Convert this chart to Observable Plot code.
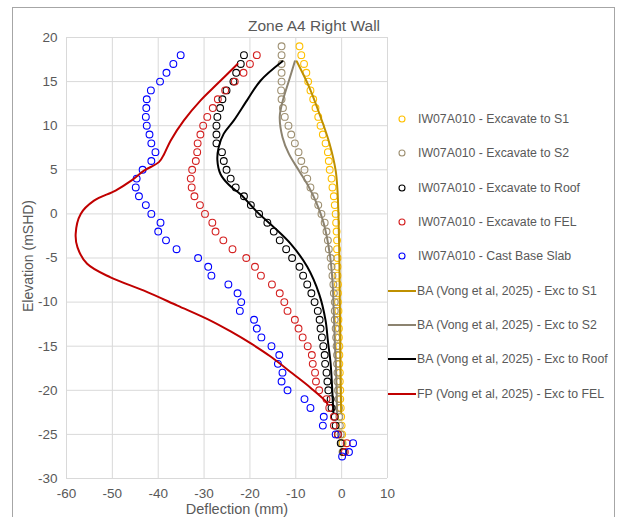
<!DOCTYPE html>
<html>
<head>
<meta charset="utf-8">
<script src="https://cdn.jsdelivr.net/npm/d3@7"></script>
<script src="https://cdn.jsdelivr.net/npm/@observablehq/plot@0.6"></script>
<style>
  body { margin: 0; background: #fff; }
  #wrap { position: relative; width: 623px; height: 517px; overflow: hidden; font-family: "Liberation Sans", Arial, sans-serif; color: #595959; }
  #frame { position: absolute; left: 12px; top: 7px; width: 603px; height: 530px; border: 1px solid #a6a6a6; box-sizing: border-box; }
  #title { position: absolute; left: 164px; width: 300px; top: 18px; line-height: 16px; text-align: center; font-size: 15.5px; }
  #xlabel { position: absolute; left: 137px; width: 200px; top: 502.8px; line-height: 12px; text-align: center; font-size: 14.5px; }
  #ylabel { position: absolute; left: 28px; top: 256px; font-size: 14px; line-height: 14px; white-space: nowrap; transform: translate(-50%, -50%) rotate(-90deg); }
  #chart { position: absolute; left: 0; top: 0; }
  .li { position: absolute; left: 386px; height: 16px; font-size: 12.3px; white-space: nowrap; display: flex; align-items: center; }
  .li svg { flex: none; }
</style>
</head>
<body>
<div id="wrap">
  <div id="frame"></div>
  <div id="chart"></div>
  <div id="title">Zone A4 Right Wall</div>
  <div id="xlabel">Deflection (mm)</div>
  <div id="ylabel">Elevation (mSHD)</div>
  <div id="legend"></div>
</div>
<script>
// ---- Tick labels ----
const xTicks = [-60, -50, -40, -30, -20, -10, 0, 10];
const yTicks = [-30, -25, -20, -15, -10, -5, 0, 5, 10, 15, 20];

// ---- Inclinometer IW07A010 readings (elevation mSHD, deflection mm) ----
const elevS1 = [19,18,17,16,15,14,13,12,11,10,9,8,7,6,5,4,3,2,1,0,-1,-2,-3,-4,-5,-6,-7,-8,-9,-10,-11,-12,-13,-14,-15,-16,-17,-18,-19,-20,-21,-22,-23,-24,-25,-26,-27];
const defS1 = [-9.2,-8.8,-8.2,-7.7,-7.3,-6.8,-6.2,-5.7,-5.1,-4.6,-4.1,-3.5,-3.0,-2.8,-2.6,-2.2,-2.0,-1.7,-1.5,-1.3,-1.2,-1.1,-1.0,-1.0,-0.9,-0.9,-0.9,-0.8,-0.8,-0.8,-0.7,-0.7,-0.6,-0.6,-0.5,-0.5,-0.5,-0.4,-0.4,-0.3,-0.3,-0.2,-0.1,0.0,0.1,0.2,0.3];

const elevS2 = [19,18,17,16,15,14,13,12,11,10,9,8,7,6,5,4,3,2,1,0,-1,-2,-3,-4,-5,-6,-7,-8,-9,-10,-11,-12,-13,-14,-15,-16,-17,-18,-19,-20,-21,-22,-23,-24,-25,-26,-27];
const defS2 = [-13.1,-13.1,-13.1,-13.1,-13.1,-13.2,-13.1,-12.8,-12.4,-11.6,-11.0,-10.2,-9.4,-8.8,-8.1,-7.5,-6.8,-5.9,-5.1,-4.4,-3.7,-3.3,-3.0,-2.8,-2.4,-2.2,-2.0,-1.8,-1.7,-1.5,-1.5,-1.5,-1.3,-1.2,-1.1,-1.0,-1.0,-0.9,-0.9,-0.8,-0.7,-0.6,-0.5,-0.4,-0.2,0.0,0.2];

const elevRoof = [18,17,16,15,14,13,12,11,10,9,8,7,6,5,4,3,2,1,0,-1,-2,-3,-4,-5,-6,-7,-8,-9,-10,-11,-12,-13,-14,-15,-16,-17,-18,-19,-20,-21,-22,-23,-24,-25,-26,-27];
const defRoof = [-21.3,-22.0,-23.0,-23.6,-25.1,-26.0,-26.5,-27.1,-27.3,-27.3,-27.3,-26.1,-25.7,-25.1,-24.2,-23.1,-21.3,-19.8,-18.0,-16.2,-14.8,-13.5,-12.1,-10.8,-9.2,-8.4,-7.5,-6.6,-5.9,-5.2,-4.8,-4.6,-4.3,-4.0,-3.7,-3.6,-3.3,-3.1,-2.9,-2.4,-2.2,-1.5,-1.3,-0.8,-0.2,0.4];

const elevFEL = [18,17,16,15,14,13,12,11,10,9,8,7,6,5,4,3,2,1,0,-1,-2,-3,-4,-5,-6,-7,-8,-9,-10,-11,-12,-13,-14,-15,-16,-17,-18,-19,-20,-21,-22,-23,-24,-25,-26,-27];
const defFEL = [-18.5,-20.0,-21.4,-23.3,-25.4,-27.0,-28.1,-29.3,-30.2,-30.8,-31.4,-31.5,-31.8,-32.6,-32.9,-32.7,-32.1,-30.9,-29.8,-28.2,-27.5,-25.8,-23.8,-20.8,-18.9,-17.6,-15.2,-13.5,-12.5,-11.8,-10.2,-9.4,-8.5,-7.4,-6.5,-6.3,-5.8,-5.6,-4.9,-3.3,-2.7,-1.7,-1.7,-0.8,1.1,0.7];

const elevSlab = [18,17,16,15,14,13,12,11,10,9,8,7,6,5,4,3,2,1,0,-1,-2,-3,-4,-5,-6,-7,-8,-9,-10,-11,-12,-13,-14,-15,-16,-17,-18,-19,-20,-21,-22,-23,-24,-25,-26,-27,-27.5];
const defSlab = [-35.1,-36.7,-38.2,-39.6,-41.6,-42.5,-42.6,-42.7,-42.5,-41.9,-41.5,-40.6,-41.5,-43.4,-44.7,-44.9,-44.2,-42.7,-41.5,-39.5,-40.0,-38.3,-36.0,-31.3,-29.1,-28.4,-24.7,-22.7,-21.9,-22.2,-19.1,-18.5,-17.5,-15.3,-13.6,-13.9,-12.9,-13.1,-11.8,-8.1,-6.8,-3.9,-4.1,-1.3,2.5,1.6,0.1];

// ---- Predicted profiles (Vong et al, 2025) ----
const baS1Elev = [17.3,14.4,11.0,7.9,4.9,2.6,0,-5,-10,-15,-20,-22.5];
const baS1Def  = [-9.8,-7.1,-4.6,-2.6,-1.3,-0.9,-0.7,-0.5,-0.4,-0.3,-0.2,-0.1];

const baS2Elev = [17.3,15.1,12.7,11.0,8.7,6.8,4.9,3.0,1.5,-1.1,-4.5,-7.6,-11.4,-14.4,-18,-22.5];
const baS2Def  = [-10.2,-11.5,-12.9,-13.5,-12.9,-11.5,-9.3,-7.1,-5.7,-3.9,-2.6,-2.0,-1.7,-1.5,-1.2,-1.0];

const baRoofElev = [17.3,15.1,12.9,10.6,9.1,7.6,6.1,4.5,3.3,2.2,0.2,-1.5,-3.4,-6.0,-9.1,-12.1,-14.4,-17,-21.5,-22.5];
const baRoofDef  = [-12.9,-17.7,-20.6,-23.5,-25.7,-26.8,-27.1,-26.4,-24.6,-22.0,-18.4,-14.8,-11.1,-7.5,-4.9,-3.5,-3.0,-2.4,-1.9,-1.8];

const fpFelElev = [17.0,14.75,12.9,10.6,8.3,6.8,5.9,4.9,3.8,2.65,1.5,0,-2.26,-3.8,-5.66,-7.2,-8.7,-10.4,-12.1,-13.33,-14.69,-16.17,-18.1,-19.7,-21.34,-21.6];
const fpFelDef  = [-22.7,-27.1,-30.7,-34.4,-37.3,-38.7,-39.8,-43.1,-45.8,-49.3,-54.0,-56.9,-58.0,-57.6,-55.5,-50.4,-43.1,-35.8,-28.6,-24.2,-19.8,-15.5,-10.7,-6.8,-3.3,-3.1];

// ---- Series styling / names ----
const pointSeries = [
  {name: "IW07A010 - Excavate to S1", color: "#ffc000", elev: elevS1, def: defS1},
  {name: "IW07A010 - Excavate to S2", color: "#9e9072", elev: elevS2, def: defS2},
  {name: "IW07A010 - Excavate to Roof", color: "#000000", elev: elevRoof, def: defRoof},
  {name: "IW07A010 - Excavate to FEL", color: "#d42020", elev: elevFEL, def: defFEL},
  {name: "IW07A010 - Cast Base Slab", color: "#0000ff", elev: elevSlab, def: defSlab}
];
const lineSeries = [
  {name: "BA (Vong et al, 2025) - Exc to S1", color: "#bf9000", elev: baS1Elev, def: baS1Def},
  {name: "BA (Vong et al, 2025) - Exc to S2", color: "#8c8370", elev: baS2Elev, def: baS2Def},
  {name: "BA (Vong et al, 2025) - Exc to Roof", color: "#000000", elev: baRoofElev, def: baRoofDef},
  {name: "FP (Vong et al, 2025) - Exc to FEL", color: "#c00000", elev: fpFelElev, def: fpFelDef}
];

const rows = s => s.elev.map((e, i) => ({x: s.def[i], y: e}));

const marks = [
  Plot.gridX(xTicks, {stroke: "#d9d9d9", strokeOpacity: 1, strokeWidth: 1}),
  Plot.gridY(yTicks, {stroke: "#d9d9d9", strokeOpacity: 1, strokeWidth: 1}),
  Plot.axisX(xTicks, {tickSize: 0, tickPadding: 9.5, label: null, tickFormat: d => String(d), fill: "#595959"}),
  Plot.axisY(yTicks, {tickSize: 0, tickPadding: 9, label: null, tickFormat: d => String(d), fill: "#595959"})
];
for (const s of pointSeries) {
  marks.push(Plot.dot(rows(s), {x: "x", y: "y", r: 3.4, stroke: s.color, strokeWidth: 1.1, fill: "none"}));
}
for (const s of lineSeries) {
  marks.push(Plot.line(rows(s), {x: "x", y: "y", stroke: s.color, strokeWidth: 2, curve: "catmull-rom"}));
}

const chart = Plot.plot({
  width: 623,
  height: 517,
  marginLeft: 66,
  marginRight: 236,
  marginTop: 37,
  marginBottom: 39,
  x: {domain: [-60, 10]},
  y: {domain: [-30, 20]},
  style: {fontFamily: '"Liberation Sans", Arial, sans-serif', fontSize: "13.5px", color: "#595959", background: "transparent", overflow: "visible"},
  marks
});
document.getElementById("chart").appendChild(chart);

// ---- Legend ----
const legend = document.getElementById("legend");
const legendY = [119, 153, 188, 222, 256, 291, 325, 359, 394];
const ns = "http://www.w3.org/2000/svg";
[...pointSeries.map(s => ({...s, kind: "dot"})), ...lineSeries.map(s => ({...s, kind: "line"}))].forEach((s, i) => {
  const div = document.createElement("div");
  div.className = "li";
  div.style.top = (legendY[i] - 8) + "px";
  const sw = document.createElementNS(ns, "svg");
  sw.setAttribute("width", 31);
  sw.setAttribute("height", 16);
  if (s.kind === "dot") {
    const c = document.createElementNS(ns, "circle");
    c.setAttribute("cx", 16); c.setAttribute("cy", 8); c.setAttribute("r", 3);
    c.setAttribute("fill", "none"); c.setAttribute("stroke", s.color); c.setAttribute("stroke-width", 1.1);
    sw.appendChild(c);
  } else {
    const l = document.createElementNS(ns, "line");
    l.setAttribute("x1", 2); l.setAttribute("x2", 30); l.setAttribute("y1", 8); l.setAttribute("y2", 8);
    l.setAttribute("stroke", s.color); l.setAttribute("stroke-width", 2);
    sw.appendChild(l);
  }
  div.appendChild(sw);
  const t = document.createElement("span");
  t.textContent = s.name;
  t.style.marginLeft = s.kind === "dot" ? "1px" : "0px";
  div.appendChild(t);
  legend.appendChild(div);
});
</script>
</body>
</html>
